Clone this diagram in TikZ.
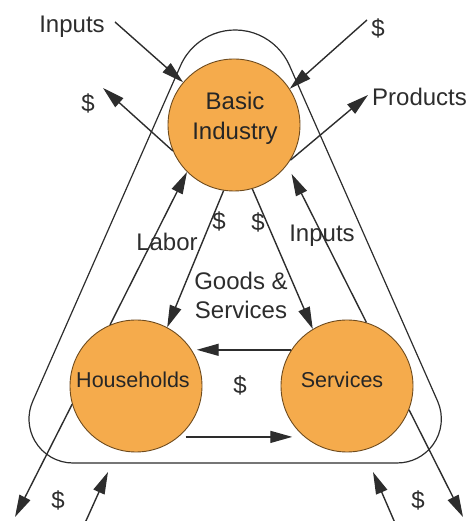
\documentclass[tikz,border=0pt]{standalone}
\usepackage{fontspec}
\setmainfont{Liberation Sans}
\usetikzlibrary{arrows.meta}

\definecolor{hubfill}{RGB}{245,171,76}
\definecolor{hubline}{RGB}{110,75,30}
\definecolor{ink}{RGB}{45,45,45}

\tikzset{
	hub/.style={circle,draw=hubline,fill=hubfill,line width=0.9pt,minimum size=132pt,inner sep=0pt},
	flow/.style={draw=ink,line width=1.4pt,-{Triangle[length=22pt,width=12pt]}},
	lbl/.style={text=ink,font=\fontsize{24}{29}\selectfont,inner sep=0pt},
	hubtxt/.style={text=black!85,font=\fontsize{21.5}{26}\selectfont,inner sep=0pt},
}

\begin{document}
\begin{tikzpicture}[x=1pt,y=1pt]
			\useasboundingbox (0,0) rectangle (473,521);
			
			% rounded triangle round the three sectors
			\draw[ink,line width=1.2pt] (180.6,455.5) arc[start angle=156.2,end angle=23.8,radius=59.5] -- (437.6,119.8)
				arc[start angle=23.8,end angle=-90,radius=44] -- (73,58) arc[start angle=270,end angle=156.2,radius=44] -- cycle;
			
			\node[hub] (ind) at (234,396) {}; \node[hubtxt,font=\fontsize{24}{30}\selectfont,align=center] (indtxt) at (235,403) {Basic\\Industry};
			\node[hub] (home) at (136,135) {}; \node[hubtxt] (hometxt) at (133,141) {Households};
			\node[hub] (serv) at (347,135) {}; \node[hubtxt] (servtxt) at (342,141) {Services};
			
			% outside flows
			\coordinate (inA) at (115,499); \coordinate (outA) at (103,433);
			\coordinate (inB) at (367,501); \coordinate (outB) at (368,426);
			\coordinate (outC) at (15,4); \coordinate (inCs) at (85,-2); \coordinate (inCe) at (108,49);
			\coordinate (outD) at (463,4); \coordinate (inDs) at (395,-2); \coordinate (inDe) at (373,49);
			
			\node[lbl] (inputsA) at (72,494) {Inputs}; \draw[flow] (inA) -- (ind.140.5);
			\node[lbl] (cashA) at (88,418) {\$}; \draw[flow] (ind.203.5) -- (outA);
			\node[lbl] (cashB) at (378,493) {\$}; \draw[flow] (inB) -- (ind.33.5);
			\node[lbl,anchor=west] (prod) at (372,424) {Products}; \draw[flow] (ind.328) -- (outB);
			
			\node[lbl] (cashC) at (58,21) {\$}; \draw[flow] (home.196) -- (outC); \draw[flow] (inCs) -- (inCe);
			\node[lbl] (cashD) at (418,21) {\$}; \draw[flow] (serv.339) -- (outD); \draw[flow] (inDs) -- (inDe);
			
			% flows between sectors
			\node[lbl] (labor) at (167,279) {Labor}; \draw[flow] (home.113) -- (ind.225.6);
			\node[lbl] (cashE) at (219,300) {\$}; \draw[flow] (ind.261) -- (home.62.3);
			\node[lbl] (cashF) at (258,299) {\$}; \draw[flow] (ind.286.8) -- (serv.121.2);
			\node[lbl,align=center] (goods) at (241,226) {Goods \&\\Services};
			\node[lbl] (inputsB) at (322,285) {Inputs}; \draw[flow,shorten >=10pt] (serv.73.6) -- (ind.323.5);
			
			\draw[flow,shorten >=5pt] (serv.147) -- (home.33);
			\node[lbl] (cashG) at (240,136) {\$};
			\draw[flow,shorten <=7pt,shorten >=12pt] (home.-50.6) -- (serv.230.6);
			\end{tikzpicture}
\end{document}
